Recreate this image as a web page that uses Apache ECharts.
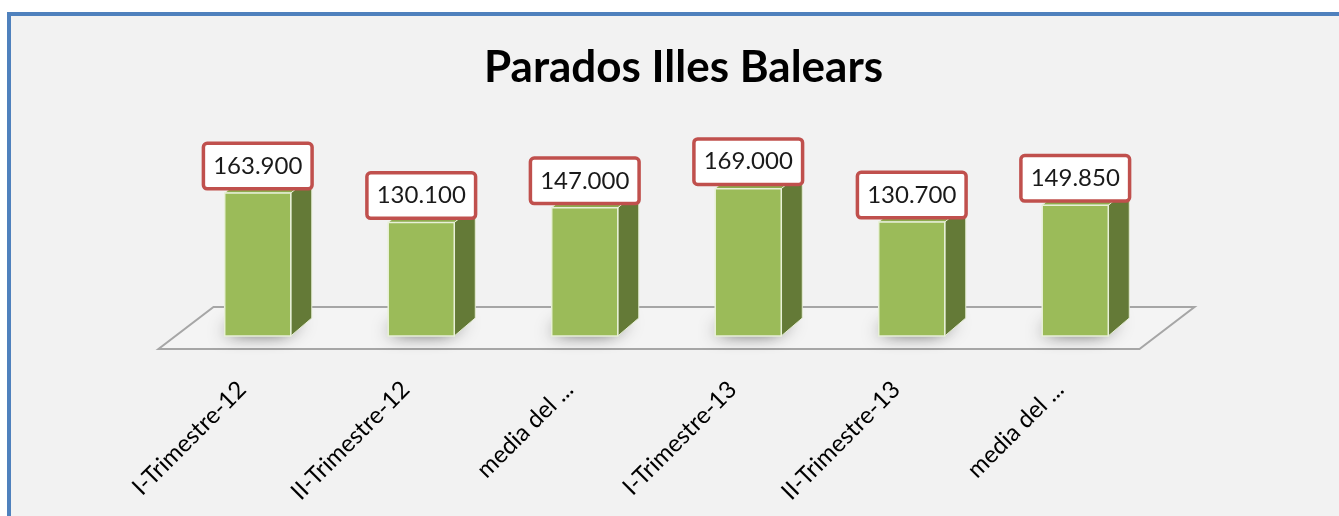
<!DOCTYPE html>
<html>
<head>
<meta charset="utf-8">
<style>
  html, body { margin: 0; padding: 0; background: #ffffff; }
  #main { width: 1339px; height: 516px; }
</style>
<script src="https://cdn.jsdelivr.net/npm/echarts@6/dist/echarts.min.js"></script>
</head>
<body>
<div id="main"></div>
<script>
var categorias = ['I-Trimestre-12', 'II-Trimestre-12', 'media del ...', 'I-Trimestre-13', 'II-Trimestre-13', 'media del ...'];
var parados = [163.9, 130.1, 147.0, 169.0, 130.7, 149.85];
var etiquetas = ['163.900', '130.100', '147.000', '169.000', '130.700', '149.850'];

var chart = echarts.init(document.getElementById('main'));

// profundidad del efecto 3D en px
var DX = 21, DY = -18;

function renderFloor(params, api) {
    var catW = api.size([1, 0])[0];
    var first = api.coord([0, 0]);
    var last = api.coord([categorias.length - 1, 0]);
    var midY = first[1] - 8;
    var l = first[0] - catW / 2 + 10;
    var r = last[0] + catW / 2 + 10;
    var fx = 27.5, fy = 21;
    return {
        type: 'polygon',
        shape: { points: [[l - fx, midY + fy], [r - fx, midY + fy], [r + fx, midY - fy], [l + fx, midY - fy]] },
        style: { fill: '#f4f4f4', stroke: '#a6a6a6', lineWidth: 2 }
    };
}

function renderBar(params, api) {
    var i = api.value(0);
    var base = api.coord([i, 0]);
    var top = api.coord([i, api.value(1)]);
    var catW = api.size([1, 0])[0];
    var w = catW * 0.404;
    var x0 = base[0] - w / 2, x1 = base[0] + w / 2;
    var y0 = top[1], y1 = base[1];
    return {
        type: 'group',
        children: [
            {
                // sombra sobre el suelo, tapada por la propia barra
                type: 'polygon',
                shape: { points: [[x0 + 4, y1 - 3], [x1 - 3, y1 - 3], [x1 + DX - 4, y1 + DY + 3], [x0 + DX + 4, y1 + DY + 3]] },
                style: { fill: '#555555', shadowBlur: 18, shadowColor: 'rgba(0,0,0,0.85)', shadowOffsetX: -6 },
                z2: 1
            },
            {
                type: 'polygon',
                shape: { points: [[x1, y0], [x1 + DX, y0 + DY], [x1 + DX, y1 + DY], [x1, y1]] },
                style: { fill: '#647a37', stroke: '#e4ecd2', lineWidth: 1 },
                z2: 2
            },
            {
                type: 'polygon',
                shape: { points: [[x0, y0], [x1, y0], [x1 + DX, y0 + DY], [x0 + DX, y0 + DY]] },
                style: { fill: '#8dab4e', stroke: '#e4ecd2', lineWidth: 1 },
                z2: 2
            },
            {
                type: 'rect',
                shape: { x: x0, y: y0, width: w, height: y1 - y0 },
                style: { fill: '#9bbb59', stroke: '#e8f0d8', lineWidth: 1.5 },
                z2: 3
            },
            {
                type: 'text',
                x: base[0],
                y: y0 - 6,
                style: {
                    text: etiquetas[params.dataIndex],
                    align: 'center',
                    verticalAlign: 'bottom',
                    font: '24px Lato',
                    fill: '#1a1a1a',
                    lineHeight: 32,
                    backgroundColor: '#ffffff',
                    borderColor: '#c0504d',
                    borderWidth: 3.5,
                    borderRadius: 2,
                    padding: [5, 8, 5, 8]
                },
                z2: 10
            }
        ]
    };
}

var option = {
    backgroundColor: '#ffffff',
    graphic: [
        {
            type: 'rect',
            z: -10,
            shape: { x: 9, y: 14, width: 1400, height: 600 },
            style: { fill: '#f2f2f2', stroke: '#4f81bd', lineWidth: 4 }
        }
    ],
    title: {
        text: 'Parados Illes Balears',
        left: 479,
        top: 41,
        textStyle: { fontFamily: 'Lato', fontWeight: 'bold', fontSize: 44, color: '#000000' }
    },
    grid: { left: 176, right: 182, top: 161.6, bottom: 180 },
    xAxis: {
        type: 'category',
        data: categorias,
        axisLine: { show: false },
        axisTick: { show: false },
        axisLabel: {
            rotate: 45,
            margin: 34,
            interval: 0,
            padding: [0, 22, 0, 0],
            fontFamily: 'Lato',
            fontSize: 24,
            color: '#000000'
        }
    },
    yAxis: {
        type: 'value',
        min: 0,
        max: 200,
        show: false
    },
    series: [
        {
            type: 'custom',
            renderItem: renderFloor,
            data: [0],
            z: 1,
            silent: true
        },
        {
            type: 'custom',
            renderItem: renderBar,
            data: parados.map(function (v, i) { return [i, v]; }),
            encode: { x: 0, y: 1 },
            z: 2
        }
    ]
};

chart.setOption(option);
</script>
</body>
</html>
